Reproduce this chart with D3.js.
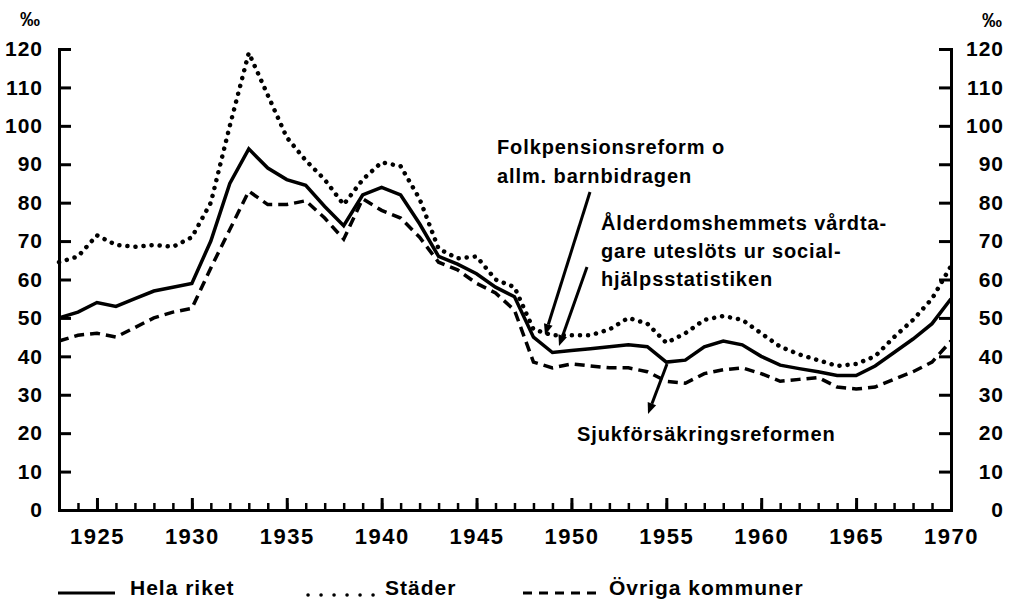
<!DOCTYPE html>
<html>
<head>
<meta charset="utf-8">
<script src="https://cdn.jsdelivr.net/npm/d3@7"></script>
<style>
  body { margin: 0; background: #fff; }
  svg text { font-family: "Liberation Sans", Arial, sans-serif; font-weight: bold; fill: #000; }
</style>
</head>
<body>
<svg id="chart" width="1015" height="600"></svg>
<script>
// years 1923-1970, promille
const years = d3.range(1923, 1971);
const helaRiket = [50, 51.5, 54, 53, 55, 57, 58, 59, 70, 85, 94, 89, 86, 84.5, 79, 74, 82, 84, 82, 74.5,
  66, 64, 61.5, 58, 55.5, 45, 41, 41.5, 42, 42.5, 43, 42.5, 38.5, 39, 42.5, 44, 43, 40, 37.7, 36.8,
  36, 35, 35, 37.5, 41, 44.5, 48.5, 55];
const stader = [64.5, 66, 71.5, 69, 68.5, 69, 68.5, 71, 80, 100, 119, 108, 97, 91, 86, 79.5, 86, 90.5, 89.5, 81,
  68, 65.5, 66, 60, 58, 47, 45.5, 45.5, 45.5, 47, 50, 48.5, 43.5, 46, 49.5, 50.5, 49.5, 46, 42.5, 40.5,
  39, 37.5, 38, 40, 45, 49.5, 55, 63.5];
const ovriga = [44, 45.5, 46, 45, 47.5, 50, 51.5, 52.5, 63, 73, 83, 79.5, 79.5, 80.5, 76, 70.5, 81, 78, 76, 71,
  64.5, 62.5, 59, 56.5, 52, 38.5, 37, 38, 37.5, 37, 37, 36, 33.5, 33, 35.5, 36.5, 37, 35.5, 33.5, 34,
  34.5, 32, 31.5, 32, 34, 36, 38.5, 44];
const yTicks = d3.range(0, 121, 10);
const majorYears = d3.range(1925, 1971, 5);
const minorYears = d3.range(1924, 1970);
const legendLabels = ["Hela riket", "Städer", "Övriga kommuner"];

const svg = d3.select("#chart");
const x = d3.scaleLinear().domain([1923, 1970]).range([59, 951]);
const y = d3.scaleLinear().domain([0, 120]).range([510, 49]);

//left axis, ticks pointing inwards
const left = svg.append("g").attr("transform", "translate(" + x(1923) + ",0)")
  .call(d3.axisLeft(y).tickValues(yTicks).tickSizeInner(-12).tickSizeOuter(0).tickPadding(16));
//right axis
const right = svg.append("g").attr("transform", "translate(" + x(1970) + ",0)")
  .call(d3.axisRight(y).tickValues(yTicks).tickSizeInner(-12).tickSizeOuter(0).tickPadding(53));
right.selectAll("text").attr("text-anchor", "end");

//bottom axis: minor then major ticks
const bottomMinor = svg.append("g").attr("transform", "translate(0," + y(0) + ")")
  .call(d3.axisBottom(x).tickValues(minorYears).tickSizeInner(-7).tickSizeOuter(0).tickFormat(""));
const bottom = svg.append("g").attr("transform", "translate(0," + y(0) + ")")
  .call(d3.axisBottom(x).tickValues(majorYears).tickSizeInner(-12).tickSizeOuter(0).tickPadding(18).tickFormat(d3.format("d")));

[left, right, bottomMinor, bottom].forEach(function(a){
  a.select(".domain").attr("stroke", "#000").attr("stroke-width", 3).attr("stroke-linecap", "square");
  a.selectAll(".tick line").attr("stroke", "#000").attr("stroke-width", 3);
  a.selectAll("text").style("font-size", "21px").style("letter-spacing", "1px").attr("fill", "#000");
});
bottomMinor.selectAll(".tick line").attr("stroke-width", 2.5);
bottom.selectAll("text").attr("dy", "0.71em").style("font-size", "22px").style("letter-spacing", "1.5px");

svg.append("text").attr("x", 20).attr("y", 26).style("font-size", "20px").text("‰");
svg.append("text").attr("x", 982).attr("y", 27).style("font-size", "20px").text("‰");

//data lines
const line = d3.line().x((d, i) => x(years[i])).y(d => y(d));
svg.append("path").datum(stader).attr("d", line).attr("fill", "none").attr("stroke", "#000")
  .attr("stroke-width", 4.5).attr("stroke-linecap", "round").attr("stroke-dasharray", "0.1 8");
svg.append("path").datum(ovriga).attr("d", line).attr("fill", "none").attr("stroke", "#000")
  .attr("stroke-width", 3.5).attr("stroke-dasharray", "10 6");
svg.append("path").datum(helaRiket).attr("d", line).attr("fill", "none").attr("stroke", "#000")
  .attr("stroke-width", 3.5).attr("stroke-linejoin", "miter");

//annotations
function note(lines, x0, y0, step) {
  lines.forEach(function(t, i){
    svg.append("text").attr("x", x0).attr("y", y0 + i * step).style("font-size", "20px")
      .style("letter-spacing", "0.9px").text(t);
  });
}
note(["Folkpensionsreform o", "allm. barnbidragen"], 497, 154, 29);
note(["Ålderdomshemmets vårdta-", "gare uteslöts ur social-", "hjälpsstatistiken"], 601, 230, 28);
note(["Sjukförsäkringsreformen"], 577, 441, 0);

function arrow(x1, y1, x2, y2) {
  const a = Math.atan2(y2 - y1, x2 - x1);
  const len = 11, w = 4.5;
  const bx = x2 - len * Math.cos(a), by = y2 - len * Math.sin(a);
  svg.append("line").attr("x1", x1).attr("y1", y1).attr("x2", bx).attr("y2", by)
    .attr("stroke", "#000").attr("stroke-width", 3);
  svg.append("path").attr("d", "M" + x2 + "," + y2 +
    "L" + (bx + w * Math.sin(a)) + "," + (by - w * Math.cos(a)) +
    "L" + (bx - w * Math.sin(a)) + "," + (by + w * Math.cos(a)) + "Z").attr("fill", "#000");
}
arrow(590, 192, 545, 335);
arrow(587, 267, 559, 346);
arrow(667, 364, 648, 414);

//legend
const legendY = 593;
const legendItems = [
  {x1: 58, x2: 115, tx: 130, dash: null, w: 3},
  {x1: 308, x2: 374, tx: 385, dash: "0.1 12.9", w: 3.5},
  {x1: 523, x2: 598, tx: 609, dash: "9 7", w: 3}
];
legendItems.forEach(function(d, i){
  const dotted = d.w === 3.5;
  svg.append("line").attr("x1", d.x1).attr("x2", d.x2).attr("y1", legendY + (dotted ? 2 : 0))
    .attr("y2", legendY + (dotted ? 2 : 0))
    .attr("stroke", "#000").attr("stroke-width", d.w)
    .attr("stroke-linecap", dotted ? "round" : "butt")
    .attr("stroke-dasharray", d.dash);
  svg.append("text").attr("x", d.tx).attr("y", 595).style("font-size", "21px")
    .style("letter-spacing", "1px").text(legendLabels[i]);
});
</script>
</body>
</html>
